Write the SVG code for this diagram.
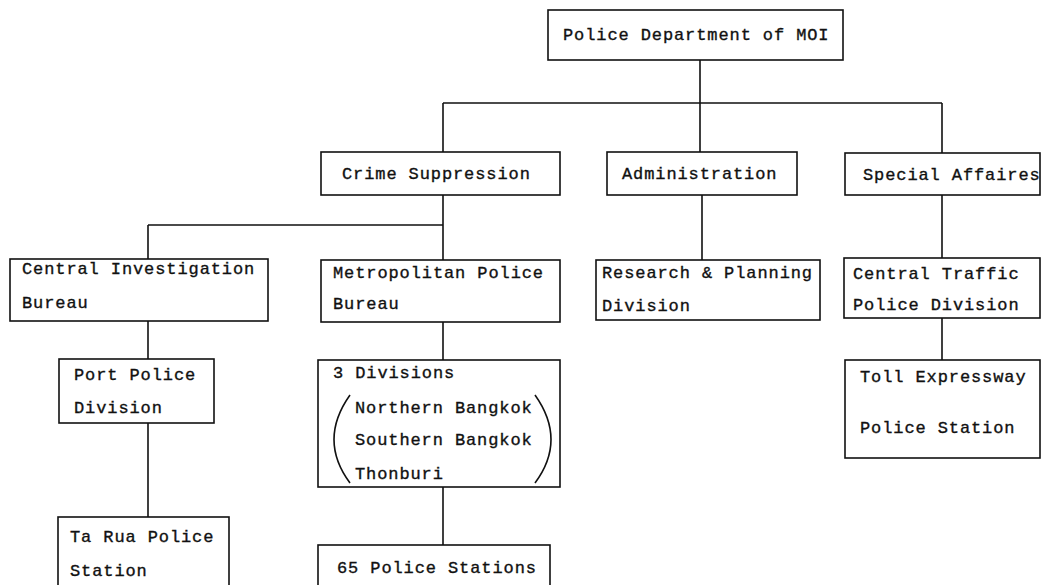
<svg xmlns="http://www.w3.org/2000/svg" width="1041" height="585" viewBox="0 0 1041 585">
<style>
.box{fill:#fff;stroke:#111;stroke-width:1.6}
.ln{fill:none;stroke:#111;stroke-width:1.6}
text{font-family:"Liberation Mono","DejaVu Sans Mono",monospace;font-size:17px;letter-spacing:0.9px;fill:#111;stroke:#111;stroke-width:0.35}
</style>
<rect width="1041" height="585" fill="#fff"/>
<g id="connectors">
<path class="ln" d="M700 60V103M443 103H942M443 103V152M700 103V152M942 103V153"/>
<path class="ln" d="M443 195V225M148 225H443M148 225V259M443 225V260"/>
<path class="ln" d="M702 195V260M942 195V258M942 318V360"/>
<path class="ln" d="M148 321V359M148 423V517"/>
<path class="ln" d="M443 322V360M443 487V545"/>
</g>
<g id="n-top"><rect class="box" x="548" y="10" width="295" height="50"/><text x="563" y="40">Police Department of MOI</text></g>
<g id="n-crime"><rect class="box" x="321" y="152" width="239" height="43"/><text x="342" y="179">Crime Suppression</text></g>
<g id="n-admin"><rect class="box" x="607" y="152" width="190" height="43"/><text x="622" y="179">Administration</text></g>
<g id="n-special"><rect class="box" x="845" y="153" width="195" height="42"/><text x="863" y="180">Special Affaires</text></g>
<g id="n-cib"><rect class="box" x="10" y="259" width="258" height="62"/><text x="22" y="274">Central Investigation</text><text x="22" y="308">Bureau</text></g>
<g id="n-metro"><rect class="box" x="321" y="260" width="239" height="62"/><text x="333" y="278">Metropolitan Police</text><text x="333" y="309">Bureau</text></g>
<g id="n-research"><rect class="box" x="596" y="260" width="224" height="60"/><text x="602" y="278">Research &amp; Planning</text><text x="602" y="311">Division</text></g>
<g id="n-traffic"><rect class="box" x="844" y="258" width="196" height="60"/><text x="853" y="279">Central Traffic</text><text x="853" y="310">Police Division</text></g>
<g id="n-toll"><rect class="box" x="845" y="360" width="195" height="98"/><text x="860" y="382">Toll Expressway</text><text x="860" y="433">Police Station</text></g>
<g id="n-port"><rect class="box" x="59" y="359" width="155" height="64"/><text x="74" y="380">Port Police</text><text x="74" y="413">Division</text></g>
<g id="n-tarua"><rect class="box" x="58" y="517" width="171" height="80"/><text x="70" y="542">Ta Rua Police</text><text x="70" y="576">Station</text></g>
<g id="n-3div"><rect class="box" x="318" y="360" width="242" height="127"/><text x="333" y="378">3 Divisions</text><text x="355" y="413">Northern Bangkok</text><text x="355" y="445">Southern Bangkok</text><text x="355" y="479">Thonburi</text>
<path class="ln" d="M350 395Q318 440 350 483M535 395Q567 440 535 483"/></g>
<g id="n-65"><rect class="box" x="318" y="545" width="232" height="60"/><text x="337" y="573">65 Police Stations</text></g>
</svg>
